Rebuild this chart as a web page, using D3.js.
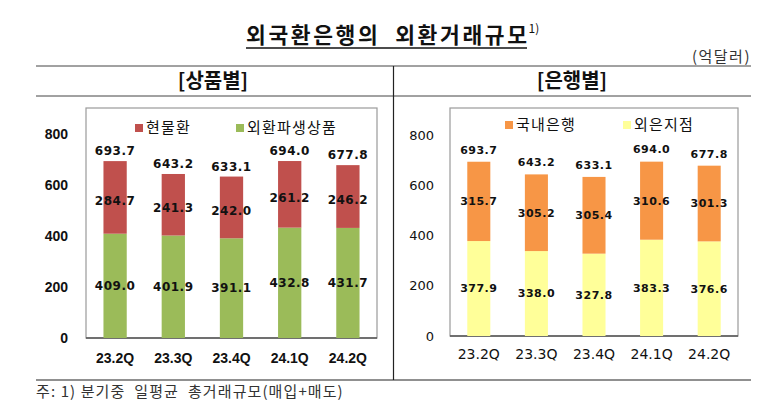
<!DOCTYPE html>
<html><head><meta charset="utf-8">
<script src="https://cdn.jsdelivr.net/npm/d3@7"></script>
<style>
body{margin:0;background:#fff;}
svg{display:block;font-family:"Noto Sans CJK KR","Noto Sans",sans-serif;}
text{white-space:pre;}
</style></head><body>
<svg id="c" width="759" height="404"></svg>
<script>
const categories = ["23.2Q","23.3Q","23.4Q","24.1Q","24.2Q"];
const spotValues = [284.7,241.3,242.0,261.2,246.2];
const derivValues = [409.0,401.9,391.1,432.8,431.7];
const leftTotals = [693.7,643.2,633.1,694.0,677.8];
const domesticValues = [315.7,305.2,305.4,310.6,301.3];
const foreignValues = [377.9,338.0,327.8,383.3,376.6];
const rightTotals = [693.7,643.2,633.1,694.0,677.8];
const yTicks = [0,200,400,600,800];

const svg = d3.select("#c");

const title = svg.append("text").attr("x",246).attr("y",43).attr("text-anchor","start")
  .attr("font-size",21.5).attr("font-weight","bold").attr("fill","#111").attr("letter-spacing",2.6);
title.append("tspan").text("외국환은행의  외환거래규모");
title.append("tspan").text("1)").attr("font-size",12).attr("font-weight","normal").attr("dy",-10).attr("dx",-1).attr("letter-spacing",0);
svg.append("line").attr("x1",246).attr("x2",527).attr("y1",48).attr("y2",48).attr("stroke","#111").attr("stroke-width",1.5);

svg.append("text").attr("x",751).attr("y",62).attr("text-anchor","end").attr("font-size",15).attr("letter-spacing",1.5).attr("fill","#333").text("(억달러)");

svg.append("line").attr("x1",36).attr("x2",751).attr("y1",66).attr("y2",66).attr("stroke","#444").attr("stroke-width",1);
svg.append("line").attr("x1",36).attr("x2",751).attr("y1",96).attr("y2",96).attr("stroke","#444").attr("stroke-width",1);
svg.append("line").attr("x1",36).attr("x2",751).attr("y1",380).attr("y2",380).attr("stroke","#222").attr("stroke-width",1.2);
svg.append("line").attr("x1",393.5).attr("x2",393.5).attr("y1",66).attr("y2",380).attr("stroke","#222").attr("stroke-width",1.2);

svg.append("text").attr("x",213).attr("y",88).attr("text-anchor","middle").attr("font-size",20).attr("font-weight","bold").attr("fill","#111").text("[상품별]");
svg.append("text").attr("x",572).attr("y",88).attr("text-anchor","middle").attr("font-size",20).attr("font-weight","bold").attr("fill","#111").text("[은행별]");

svg.append("text").attr("x",36).attr("y",397).attr("font-size",15).attr("letter-spacing",1.1).attr("fill","#333").text("주: 1) 분기중  일평균  총거래규모(매입+매도)");

function panel(opt){
  const x = d3.scaleBand().domain(categories).range([opt.x0,opt.x1]).paddingInner(0.6).paddingOuter(0.3);
  const y = d3.scaleLinear().domain([0,800]).range([opt.y0,opt.yTop]);
  const g = svg.append("g");
  g.append("rect").attr("x",opt.x0).attr("y",108).attr("width",opt.x1-opt.x0).attr("height",opt.y0-108)
    .attr("fill","none").attr("stroke","#9a9a9a").attr("stroke-width",1.2);
  g.append("line").attr("x1",opt.x0).attr("x2",opt.x1).attr("y1",opt.y0).attr("y2",opt.y0).attr("stroke","#555").attr("stroke-width",1.5);
  g.selectAll(".yt").data(yTicks).join("text").attr("x",opt.tickX).attr("y",d=>y(d)).attr("dy","0.35em")
    .attr("text-anchor","end").attr("font-size",opt.tickSize).attr("font-weight",opt.tickWeight).attr("fill","#111")
    .attr("font-family",opt.tickFont).text(d=>d);
  const bw = x.bandwidth();
  const data = categories.map((c,i)=>({c, lo:opt.bottom[i], hi:opt.top[i], tot:opt.totals[i]}));
  g.selectAll(".b1").data(data).join("rect").attr("x",d=>x(d.c)).attr("width",bw)
    .attr("y",d=>y(d.lo)).attr("height",d=>y(0)-y(d.lo)).attr("fill",opt.cBottom);
  g.selectAll(".b2").data(data).join("rect").attr("x",d=>x(d.c)).attr("width",bw)
    .attr("y",d=>y(d.lo+d.hi)).attr("height",d=>y(d.lo)-y(d.lo+d.hi)).attr("fill",opt.cTop);
  const lab = (sel)=>sel.attr("text-anchor","middle").attr("font-size",opt.labSize).attr("font-weight","bold")
    .attr("fill","#111").attr("font-family","DejaVu Sans, sans-serif").attr("letter-spacing",0.5);
  lab(g.selectAll(".l1").data(data).join("text").attr("x",d=>x(d.c)+bw/2).attr("y",d=>y(d.lo/2)).attr("dy","0.35em").text(d=>d.lo.toFixed(1)));
  lab(g.selectAll(".l2").data(data).join("text").attr("x",d=>x(d.c)+bw/2).attr("y",d=>y(d.lo+d.hi/2)+opt.topOff).attr("dy","0.35em").text(d=>d.hi.toFixed(1)));
  lab(g.selectAll(".l3").data(data).join("text").attr("x",d=>x(d.c)+bw/2).attr("y",d=>y(d.tot)-opt.totOff).attr("dy","0.35em").text(d=>d.tot.toFixed(1)));
  g.selectAll(".xl").data(categories).join("text").attr("x",d=>x(d)+bw/2).attr("y",opt.xlY).attr("dy","0.35em")
    .attr("text-anchor","middle").attr("font-size",14).attr("font-weight",opt.tickWeight).attr("fill","#111")
    .attr("font-family",opt.tickFont).text(d=>d);
  opt.legend.forEach(L=>{
    g.append("rect").attr("x",L.x).attr("y",L.y-4).attr("width",8).attr("height",8).attr("fill",L.c);
    g.append("text").attr("x",L.x+11).attr("y",L.y).attr("dy","0.35em").attr("font-size",15).attr("letter-spacing",1.2).attr("fill","#111").text(L.t);
  });
}

panel({x0:86,x1:377,y0:338,yTop:134,tickX:68,tickSize:14,tickWeight:"bold",tickFont:"Liberation Sans, sans-serif",
  bottom:derivValues,top:spotValues,totals:leftTotals,cBottom:"#9BBB59",cTop:"#C0504D",labSize:12,topOff:3,totOff:10,xlY:358,
  legend:[{x:135,y:128,c:"#C0504D",t:"현물환"},{x:236,y:128,c:"#9BBB59",t:"외환파생상품"}]});

panel({x0:450,x1:738,y0:336,yTop:135,tickX:434,tickSize:13,tickWeight:"normal",tickFont:"DejaVu Sans, sans-serif",
  bottom:foreignValues,top:domesticValues,totals:rightTotals,cBottom:"#FFFF99",cTop:"#F79646",labSize:11,topOff:0,totOff:12,xlY:354,
  legend:[{x:505,y:125,c:"#F79646",t:"국내은행"},{x:623,y:125,c:"#FFFF99",t:"외은지점"}]});
</script>
</body></html>
